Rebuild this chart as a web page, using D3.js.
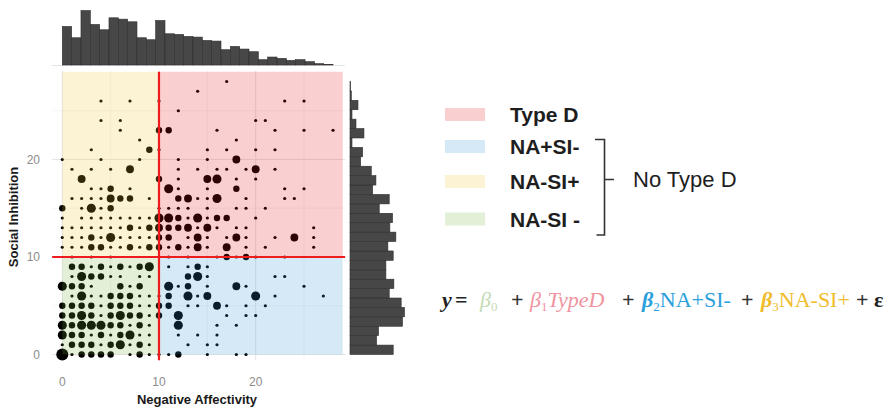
<!DOCTYPE html>
<html><head><meta charset="utf-8">
<script src="https://cdn.jsdelivr.net/npm/d3@7"></script>
<style>body{margin:0;background:#fff;}svg{display:block}</style>
</head><body>
<svg id="chart" width="890" height="408"></svg>
<script>
// ---------------- data ----------------
const naTicks = [0, 10, 20];
const siTicks = [0, 10, 20];
const cutoff = 10;
const scoreMax = 29;
const histMax = 28;            // histogram bins cover 0..28
// marginal histogram counts (29 bins each)
const naHistCounts = [58, 41, 82, 61, 53, 71, 69, 65, 41, 38, 67, 47, 46, 43, 42, 37, 36, 23, 28, 24, 20, 8, 12, 10, 7, 8, 5, 2, 1];
const siHistCounts = [65, 40, 43, 79, 82, 77, 59, 66, 54, 54, 65, 57, 69, 60, 64, 44, 59, 34, 39, 32, 16, 19, 3, 21, 9, 3, 12, 2, 1];
// [NA score, SI score, count]
const countPoints = [
 [17,28,1],
 [14,27,1],
 [4,26,1],[7,26,1],[10,26,1],[23,26,1],[25,26,1],
 [12,25,1],
 [4,24,1],[6,24,1],[20,24,1],[21,24,1],
 [6,23,1],[10,23,4],[11,23,4],[16,23,1],[22,23,1],[25,23,1],[28,23,1],
 [8,22,1],[18,22,1],
 [3,21,1],[9,21,4],[10,21,1],[15,21,1],[17,21,1],[20,21,1],[22,21,1],
 [0,20,1],[4,20,1],[8,20,1],[12,20,1],[15,20,1],[18,20,6],
 [1,19,1],[3,19,1],[5,19,1],[7,19,6],[12,19,1],[14,19,1],[16,19,1],[17,19,1],[19,19,1],[20,19,6],[22,19,1],
 [2,18,6],[10,18,4],[12,18,1],[15,18,6],[16,18,8],[18,18,1],[20,18,1],
 [3,17,1],[4,17,1],[5,17,4],[7,17,1],[11,17,8],[12,17,1],[15,17,1],[18,17,4],[23,17,1],[25,17,1],
 [1,16,1],[2,16,1],[3,16,1],[4,16,1],[5,16,6],[6,16,4],[7,16,4],[9,16,1],[12,16,4],[13,16,6],[14,16,1],[15,16,1],[16,16,8],[19,16,1],[23,16,1],[24,16,1],
 [0,15,4],[2,15,1],[3,15,8],[4,15,1],[5,15,4],[10,15,1],[11,15,1],[12,15,1],[13,15,1],[15,15,1],[18,15,1],[19,15,1],[21,15,1],
 [0,14,1],[2,14,1],[3,14,1],[4,14,1],[5,14,1],[6,14,1],[7,14,1],[8,14,1],[9,14,1],[10,14,8],[11,14,8],[12,14,4],[13,14,1],[14,14,8],[15,14,1],[16,14,4],[17,14,4],[20,14,1],
 [0,13,1],[1,13,1],[2,13,1],[3,13,1],[4,13,1],[5,13,1],[6,13,1],[7,13,4],[8,13,1],[9,13,4],[10,13,6],[11,13,4],[12,13,4],[13,13,6],[14,13,1],[15,13,6],[16,13,1],[18,13,1],[19,13,1],[26,13,1],
 [0,12,1],[1,12,1],[2,12,1],[3,12,4],[4,12,1],[5,12,8],[6,12,1],[7,12,1],[8,12,1],[9,12,1],[10,12,4],[11,12,4],[13,12,1],[14,12,6],[15,12,1],[17,12,1],[18,12,6],[19,12,1],[22,12,1],[24,12,6],[26,12,1],
 [0,11,1],[1,11,1],[2,11,1],[3,11,4],[4,11,4],[5,11,1],[6,11,1],[7,11,4],[8,11,1],[9,11,4],[10,11,4],[11,11,1],[12,11,4],[13,11,1],[14,11,6],[15,11,1],[17,11,6],[19,11,1],[21,11,1],[26,11,1],
 [1,10,1],[3,10,1],[5,10,1],[11,10,1],[13,10,1],[16,10,1],[17,10,4],[18,10,1],[19,10,4],[20,10,1],[23,10,1],
 [1,9,4],[2,9,4],[3,9,1],[4,9,4],[5,9,1],[6,9,4],[7,9,1],[8,9,4],[9,9,8],[11,9,1],[13,9,1],[14,9,4],[15,9,1],
 [1,8,1],[2,8,8],[3,8,4],[4,8,4],[5,8,1],[6,8,1],[8,8,1],[9,8,1],[13,8,4],[14,8,8],[15,8,1],[22,8,1],[23,8,1],
 [0,7,8],[1,7,4],[2,7,4],[3,7,1],[6,7,4],[7,7,1],[8,7,4],[11,7,8],[12,7,1],[13,7,4],[15,7,1],[18,7,6],[19,7,1],[25,7,1],
 [1,6,1],[2,6,8],[3,6,1],[4,6,1],[5,6,4],[6,6,4],[7,6,4],[8,6,1],[9,6,1],[10,6,1],[11,6,4],[13,6,8],[14,6,1],[15,6,6],[20,6,8],[22,6,1],[27,6,1],
 [0,5,4],[1,5,4],[2,5,4],[3,5,4],[4,5,1],[5,5,4],[6,5,4],[7,5,4],[8,5,1],[9,5,1],[10,5,4],[11,5,4],[13,5,1],[14,5,1],[16,5,6],[17,5,1],[19,5,1],[21,5,1],
 [0,4,4],[1,4,4],[2,4,8],[3,4,4],[4,4,1],[5,4,4],[6,4,8],[7,4,4],[8,4,4],[9,4,1],[10,4,4],[12,4,8],[17,4,1],[19,4,1],[20,4,1],
 [0,3,8],[1,3,4],[2,3,8],[3,3,8],[4,3,8],[5,3,4],[6,3,4],[7,3,1],[8,3,4],[9,3,1],[12,3,8],[16,3,1],[18,3,1],
 [0,2,8],[1,2,4],[2,2,4],[3,2,1],[4,2,4],[5,2,1],[6,2,4],[7,2,8],[8,2,1],[9,2,1],[12,2,1],[14,2,1],[16,2,1],
 [0,1,1],[1,1,4],[2,1,4],[3,1,4],[4,1,1],[5,1,4],[6,1,8],[7,1,1],[8,1,4],[9,1,1],[13,1,1],[15,1,1],[16,1,1],
 [0,0,14],[1,0,1],[2,0,4],[3,0,4],[4,0,4],[5,0,4],[7,0,1],[8,0,4],[9,0,1],[10,0,1],[11,0,1],[12,0,4],[15,0,1],[18,0,1],[19,0,1]
];
const groupNames = ["Type D", "NA+SI-", "NA-SI+", "NA-SI -"];
const groupColors = ["#e60f0f", "#2d91d2", "#f0be28", "#78af3c"];
const bracketLabel = "No Type D";
const xTitle = "Negative Affectivity";
const yTitle = "Social Inhibition";

// ---------------- drawing ----------------
const svg = d3.select("#chart");
const x = d3.scaleLinear().domain([0, scoreMax]).range([62.3, 342.7]);
const y = d3.scaleLinear().domain([0, scoreMax]).range([354.5, 71.75]);
const r = d3.scaleSqrt().domain([0, 14]).range([0, 6]);
const panelX = [x(-1.05), x(29.25)], panelY = [y(-0.6), y(29.1)];

// grid
const g = svg.append("g");
const minor = [5, 15, 25], major = [0, 10, 20];
g.selectAll(".vmin").data(minor).join("line").attr("x1", d => x(d)).attr("x2", d => x(d))
  .attr("y1", panelY[0]).attr("y2", panelY[1]).attr("stroke", "#f0f0f0").attr("stroke-width", 0.6);
g.selectAll(".hmin").data(minor).join("line").attr("y1", d => y(d)).attr("y2", d => y(d))
  .attr("x1", panelX[0]).attr("x2", panelX[1]).attr("stroke", "#f0f0f0").attr("stroke-width", 0.6);
g.selectAll(".vmaj").data(major).join("line").attr("x1", d => x(d)).attr("x2", d => x(d))
  .attr("y1", panelY[0]).attr("y2", panelY[1]).attr("stroke", "#e6e6e6").attr("stroke-width", 1);
g.selectAll(".hmaj").data(major).join("line").attr("y1", d => y(d)).attr("y2", d => y(d))
  .attr("x1", panelX[0]).attr("x2", panelX[1]).attr("stroke", "#e6e6e6").attr("stroke-width", 1);

// points
svg.append("g").selectAll("circle").data(countPoints).join("circle")
  .attr("cx", d => x(d[0])).attr("cy", d => y(d[1])).attr("r", d => r(d[2])).attr("fill", "#000");

// quadrant overlays
const quads = [
  {x0: cutoff, x1: scoreMax, y0: cutoff, y1: scoreMax, c: groupColors[0]},
  {x0: cutoff, x1: scoreMax, y0: 0, y1: cutoff, c: groupColors[1]},
  {x0: 0, x1: cutoff, y0: cutoff, y1: scoreMax, c: groupColors[2]},
  {x0: 0, x1: cutoff, y0: 0, y1: cutoff, c: groupColors[3]}
];
svg.append("g").selectAll("rect").data(quads).join("rect")
  .attr("x", d => x(d.x0)).attr("width", d => x(d.x1) - x(d.x0))
  .attr("y", d => y(d.y1)).attr("height", d => y(d.y0) - y(d.y1))
  .attr("fill", d => d.c).attr("fill-opacity", 0.2);

// cutoff lines
svg.append("line").attr("x1", x(cutoff)).attr("x2", x(cutoff)).attr("y1", y(29)).attr("y2", panelY[0])
  .attr("stroke", "#ee1c1c").attr("stroke-width", 2.2);
svg.append("line").attr("y1", y(cutoff)).attr("y2", y(cutoff)).attr("x1", panelX[0]).attr("x2", panelX[1])
  .attr("stroke", "#ee1c1c").attr("stroke-width", 2.2);

// tick labels
const tickFont = "'Liberation Sans', Arial, sans-serif";
svg.append("g").selectAll("text").data(naTicks).join("text")
  .attr("x", d => x(d)).attr("y", 386).attr("text-anchor", "middle")
  .attr("font-family", tickFont).attr("font-size", 12).attr("fill", "#8c8c8c").text(d => d);
svg.append("g").selectAll("text").data(siTicks).join("text")
  .attr("x", 40).attr("y", d => y(d) + 4.3).attr("text-anchor", "end")
  .attr("font-family", tickFont).attr("font-size", 12).attr("fill", "#8c8c8c").text(d => d);
// axis titles
svg.append("text").attr("x", 197).attr("y", 404).attr("text-anchor", "middle")
  .attr("font-family", tickFont).attr("font-weight", "bold").attr("font-size", 13).attr("fill", "#1a1a1a").text(xTitle);
svg.append("text").attr("transform", "translate(18,217) rotate(-90)").attr("text-anchor", "middle")
  .attr("font-family", tickFont).attr("font-weight", "bold").attr("font-size", 13).attr("fill", "#1a1a1a").text(yTitle);

// marginal histograms
const binW = histMax / naHistCounts.length;
const hLen = d3.scaleLinear().domain([0, 82]).range([0, 54.5]);
const topBase = 65, rightBase = 350;
svg.append("line").attr("x1", panelX[0]).attr("x2", panelX[1]).attr("y1", topBase + 0.5).attr("y2", topBase + 0.5)
  .attr("stroke", "#e4e4e4").attr("stroke-width", 1);
svg.append("g").selectAll("rect").data(naHistCounts).join("rect")
  .attr("x", (d, i) => x(i * binW)).attr("width", (d, i) => x((i + 1) * binW) - x(i * binW))
  .attr("y", d => topBase - hLen(d)).attr("height", d => hLen(d))
  .attr("fill", "#474747").attr("stroke", "#2f2f2f").attr("stroke-width", 0.6);
svg.append("g").selectAll("rect").data(siHistCounts).join("rect")
  .attr("y", (d, i) => y((i + 1) * binW)).attr("height", (d, i) => y(i * binW) - y((i + 1) * binW))
  .attr("x", rightBase).attr("width", d => hLen(d))
  .attr("fill", "#474747").attr("stroke", "#2f2f2f").attr("stroke-width", 0.6);

// legend
const legFont = "'Liberation Sans', Arial, sans-serif";
const legRowsY = [114.5, 146.5, 181.5, 219];
const leg = svg.append("g");
leg.selectAll("rect").data(groupNames).join("rect")
  .attr("x", 445).attr("y", (d, i) => legRowsY[i] - 6.5).attr("width", 40).attr("height", 13)
  .attr("fill", (d, i) => groupColors[i]).attr("fill-opacity", 0.2);
leg.selectAll("text").data(groupNames).join("text")
  .attr("x", 510).attr("y", (d, i) => legRowsY[i] + 7.5)
  .attr("font-family", legFont).attr("font-weight", "bold").attr("font-size", 21).attr("fill", "#1e1e1e")
  .text(d => d);
// bracket
svg.append("path").attr("d", "M595,139.5 H604.5 V235 H596.5 M604.5,179.5 H614")
  .attr("fill", "none").attr("stroke", "#333").attr("stroke-width", 1.6);
svg.append("text").attr("x", 633).attr("y", 187).attr("font-family", legFont).attr("font-size", 22)
  .attr("fill", "#1e1e1e").text(bracketLabel);

// equation
const eqFont = "'Liberation Serif', 'DejaVu Serif', serif";
const eqY = 307;
const eq = svg.append("g").attr("font-family", eqFont).attr("font-size", 22);
function piece(xp, color, parts) {
  const t = eq.append("text").attr("x", xp).attr("y", eqY).attr("fill", color);
  parts.forEach(p => {
    const s = t.append("tspan").text(p.t);
    if (p.i) s.attr("font-style", "italic");
    if (p.b) s.attr("font-weight", "bold");
    if (p.sub) s.attr("font-size", 13).attr("dy", 4);
    if (p.up) s.attr("dy", -4);
  });
}
piece(442, "#222", [{t: "y", i: 1, b: 1}]);
piece(455, "#222", [{t: "=", b: 1}]);
piece(480, "#c3dab6", [{t: "β", i: 1}, {t: "0", sub: 1}]);
piece(511, "#333", [{t: "+", b: 1}]);
piece(530, "#f0939f", [{t: "β", i: 1}, {t: "1", sub: 1}, {t: "TypeD", i: 1, up: 1}]);
piece(622, "#333", [{t: "+", b: 1}]);
piece(642, "#2aa0dc", [{t: "β", i: 1, b: 1}, {t: "2", sub: 1}, {t: "NA+SI-", up: 1}]);
piece(741, "#333", [{t: "+", b: 1}]);
piece(761, "#f0bd2c", [{t: "β", i: 1, b: 1}, {t: "3", sub: 1}, {t: "NA-SI+", up: 1}]);
piece(856, "#333", [{t: "+", b: 1}]);
piece(874, "#222", [{t: "ε", b: 1}]);
</script>
</body></html>
